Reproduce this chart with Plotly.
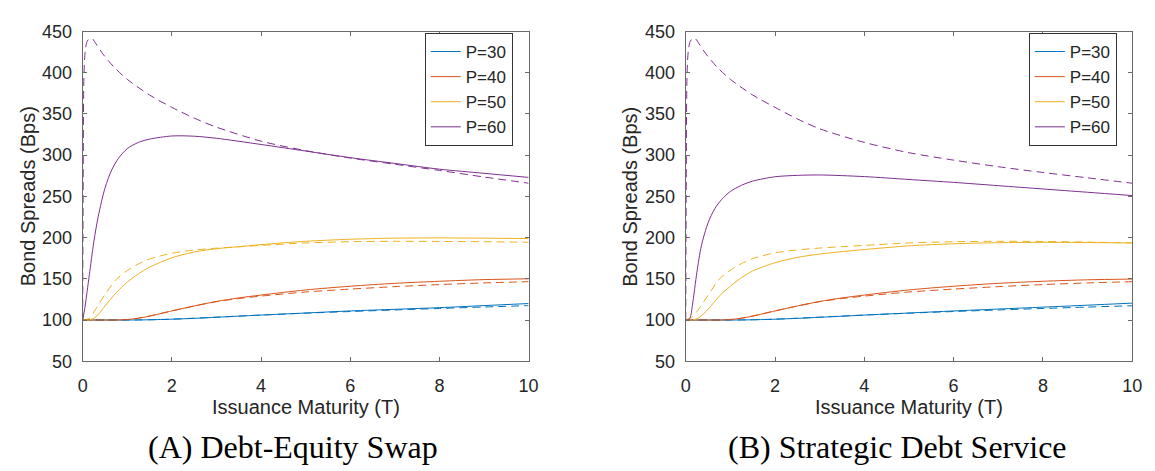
import plotly.graph_objects as go

# Issuance maturity grids (years)
T_GRID = [0, 0.15, 0.3, 0.5, 0.75, 1, 1.25, 1.5, 2, 2.5, 3, 3.5, 4, 5, 6, 7, 8, 9, 10]
T_P60_SOLID = [0, 0.05, 0.1, 0.15, 0.25, 0.35, 0.5, 0.65, 0.8, 1, 1.25, 1.5, 2, 2.5, 3, 4, 5, 6, 7, 8, 9, 10]
T_P60_DASH = [0, 0.01, 0.03, 0.06, 0.1, 0.15, 0.22, 0.3, 0.45, 0.7, 1, 1.5, 2, 2.5, 3, 4, 5, 6, 7, 8, 9, 10]

# Panel A: Debt-Equity Swap (solid / dashed), spreads in bps
A_P30_SOLID = [100, 100, 100, 100, 100, 100, 100.1, 100.3, 101, 102, 103.3, 104.7, 106, 108.5, 111, 113, 115, 117.5, 120]
A_P30_DASH = [100, 100, 100, 100, 100, 100, 100.1, 100.3, 101, 102.2, 103.5, 104.8, 106, 108.3, 110.3, 112.2, 114, 115.8, 117.5]
A_P40_SOLID = [100, 100, 100, 100, 100, 100.6, 102.2, 104.7, 111, 117, 122.5, 126.8, 130.3, 136.5, 141, 144.5, 147, 149, 150]
A_P40_DASH = [100, 100, 100, 100, 100, 100.6, 102.3, 104.9, 111, 117, 122.3, 126, 129, 134, 137.5, 140.5, 143, 145, 146.5]
A_P50_SOLID = [100, 100, 104, 117, 133, 146, 156, 164, 175.5, 182.5, 186.5, 189, 191.5, 195.5, 198, 199.3, 199.6, 199.3, 198.8]
A_P50_DASH = [100, 102, 114, 131, 149, 160, 168, 174, 181, 184.8, 187.2, 188.8, 190.5, 193.5, 195, 195.5, 195.3, 195, 194.3]
A_P60_SOLID = [100, 115, 135, 155, 195, 226, 260, 282, 296, 308, 315.5, 319.5, 323.3, 323, 320.5, 313, 305, 297, 290, 283, 278, 273]
A_P60_DASH = [100, 250, 400, 428, 438, 441.5, 441, 435, 423, 407, 392, 373, 358, 345, 334, 317, 305.5, 296.5, 289, 281.5, 273.5, 266]

# Panel B: Strategic Debt Service (solid / dashed), spreads in bps
B_P30_SOLID = [100, 100, 100, 100, 100, 100, 100.1, 100.3, 101, 102, 103.3, 104.6, 106, 108.5, 111, 113.3, 115.6, 118, 120.5]
B_P30_DASH = [100, 100, 100, 100, 100, 100, 100.1, 100.3, 101, 102.2, 103.5, 104.8, 106, 108.3, 110.3, 112.2, 114, 115.7, 117.3]
B_P40_SOLID = [100, 100, 100, 100, 100, 100.6, 102.2, 104.7, 111, 117, 122.5, 126.8, 130.3, 136.5, 141, 144.5, 147, 148.8, 149.7]
B_P40_DASH = [100, 100, 100, 100, 100, 100.6, 102.3, 104.9, 111, 117, 122.3, 126, 129, 134, 137.5, 140.5, 143, 145, 146.5]
B_P50_SOLID = [100, 100, 103, 113, 129, 141, 151.5, 159.5, 169.5, 176, 180, 183, 185.5, 190, 192.5, 193.8, 194.2, 194, 193.5]
B_P50_DASH = [100, 104, 114, 130, 149.5, 160.5, 168.5, 174.5, 181.5, 185, 187.3, 189, 190.5, 193.5, 195, 195.5, 195.3, 194.5, 193.5]
B_P60_SOLID = [100, 100, 103, 118, 158, 190, 218, 235, 246, 256, 263.5, 268.5, 273.8, 275.5, 276, 274, 270.5, 267, 263, 259, 255, 251]
B_P60_DASH = [100, 250, 400, 428, 438, 441.5, 441, 435, 423, 407, 392, 373, 358, 344, 332, 315.5, 303, 294, 286, 279, 272.5, 266]

LABELS = ["P=30", "P=40", "P=50", "P=60"]
COLORS = ["#0072BD", "#D95319", "#EDB120", "#7E2F8E"]
CAPTIONS = ["(A) Debt-Equity Swap", "(B) Strategic Debt Service"]
X_TICKS = [0, 2, 4, 6, 8, 10]
Y_TICKS = [50, 100, 150, 200, 250, 300, 350, 400, 450]

panels = [
    {
        "solid": [(T_GRID, A_P30_SOLID), (T_GRID, A_P40_SOLID), (T_GRID, A_P50_SOLID), (T_P60_SOLID, A_P60_SOLID)],
        "dash": [(T_GRID, A_P30_DASH), (T_GRID, A_P40_DASH), (T_GRID, A_P50_DASH), (T_P60_DASH, A_P60_DASH)],
    },
    {
        "solid": [(T_GRID, B_P30_SOLID), (T_GRID, B_P40_SOLID), (T_GRID, B_P50_SOLID), (T_P60_SOLID, B_P60_SOLID)],
        "dash": [(T_GRID, B_P30_DASH), (T_GRID, B_P40_DASH), (T_GRID, B_P50_DASH), (T_P60_DASH, B_P60_DASH)],
    },
]

W, H = 1155, 471
# plot-area boxes in pixels: (left, right, top, bottom)
boxes = [(78.7, 530.5, 22.5, 366.8), (689.7, 1142.0, 22.5, 366.8)]

fig = go.Figure()
axis_font = dict(family="Liberation Sans, Arial, sans-serif", size=18, color="#262626")
title_font = dict(family="Liberation Sans, Arial, sans-serif", size=20, color="#262626")

for i, panel in enumerate(panels):
    xa = "x" if i == 0 else "x2"
    ya = "y" if i == 0 else "y2"
    leg = "legend" if i == 0 else "legend2"
    for k, (tx, vals) in enumerate(panel["dash"]):
        fig.add_trace(go.Scatter(
            x=tx, y=vals, mode="lines", xaxis=xa, yaxis=ya, showlegend=False,
            line=dict(color=COLORS[k], width=1, dash="8px,5px", shape="spline", smoothing=0.8),
            hoverinfo="skip"))
    for k, (tx, vals) in enumerate(panel["solid"]):
        fig.add_trace(go.Scatter(
            x=tx, y=vals, mode="lines", xaxis=xa, yaxis=ya, name=LABELS[k], legend=leg,
            line=dict(color=COLORS[k], width=1, shape="spline", smoothing=0.8)))

layout = dict(
    width=W, height=H, autosize=False,
    margin=dict(l=0, r=0, t=0, b=0),
    paper_bgcolor="white", plot_bgcolor="white",
    showlegend=True,
)

for i, (l, r, t, b) in enumerate(boxes):
    sfx = "" if i == 0 else "2"
    common = dict(
        showline=True, linecolor="#6a6a6a", linewidth=1, mirror="ticks",
        ticks="inside", ticklen=4, tickcolor="#6a6a6a", tickwidth=1,
        showgrid=False, zeroline=False, tickfont=axis_font,
    )
    layout["xaxis" + sfx] = dict(
        domain=[l / W, r / W], range=[0, 10], tickvals=X_TICKS,
        anchor="y" + sfx, ticklabelstandoff=8, **common)
    layout["yaxis" + sfx] = dict(
        domain=[1 - b / H, 1 - t / H], range=[50, 450], tickvals=Y_TICKS,
        anchor="x" + sfx, ticklabelstandoff=6, **common)
    layout["legend" + sfx] = dict(
        x=(l + (346.6 if i == 0 else 347.6)) / W, y=1 - 24 / H,
        xanchor="left", yanchor="top",
        bgcolor="white", bordercolor="#333333", borderwidth=1,
        font=dict(family="Liberation Sans, Arial, sans-serif", size=17, color="#262626"),
        tracegroupgap=0,
    )

fig.update_layout(**layout)

annotations = []
cap_x = [291.7, 904.7]
ytitle_x = [23.2, 633.7]
for i, (l, r, t, b) in enumerate(boxes):
    annotations.append(dict(
        text="Issuance Maturity (T)", xref="paper", yref="paper",
        x=(l + r) / 2 / W, y=1 - 415 / H, xanchor="center", yanchor="middle",
        showarrow=False, font=title_font))
    annotations.append(dict(
        text="Bond Spreads (Bps)", xref="paper", yref="paper",
        x=ytitle_x[i] / W, y=1 - (t + b) / 2 / H, xanchor="center", yanchor="middle",
        textangle=-90, showarrow=False, font=title_font))
    annotations.append(dict(
        text=CAPTIONS[i], xref="paper", yref="paper",
        x=cap_x[i] / W, y=1 - 456 / H, xanchor="center", yanchor="middle",
        showarrow=False,
        font=dict(family="Liberation Serif, Times New Roman, serif", size=32, color="#000000")))
fig.update_layout(annotations=annotations)

fig.write_html("out.html")
